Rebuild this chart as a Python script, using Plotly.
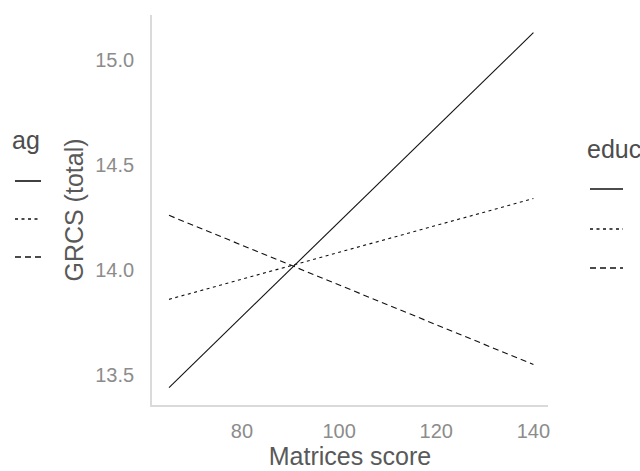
import plotly.graph_objects as go

# Predicted GRCS totals at the ends of the Matrices score range
matrices_score = [65, 140]
grcs_solid = [13.44, 15.13]
grcs_dotted = [13.86, 14.34]
grcs_dashed = [14.26, 13.55]

x_ticks = [80, 100, 120, 140]
y_ticks = [13.5, 14.0, 14.5, 15.0]

W, H = 640, 471
M_L, M_R, M_T, M_B = 152, 92, 15, 66
PW, PH = W - M_L - M_R, H - M_T - M_B

FONT = "Liberation Sans, Arial, sans-serif"
TICK_COL = "#8c8c8c"
TITLE_COL = "#595959"
LEG_COL = "#4d4d4d"
AXIS_COL = "#dadada"

DOT = "3px,3.5px"
DASH = "6px,4px"


def px_x(p):
    return (p - M_L) / PW


def px_y(p):
    return (H - M_B - p) / PH


fig = go.Figure()
for ys, dash in [(grcs_solid, "solid"), (grcs_dotted, DOT), (grcs_dashed, DASH)]:
    fig.add_trace(go.Scatter(
        x=matrices_score, y=ys, mode="lines",
        line=dict(color="#111111", width=1.1, dash=dash),
        showlegend=False, hoverinfo="skip",
    ))

shapes = []
annotations = []

# Legend blocks (age on the left, educ on the right)
legend_blocks = [
    ("age", 11, 140, 15, 41, [181, 219, 257], 28),
    ("educ", 586, 149, 590, 623, [189, 229, 268], None),
]
for title, tx, ty, kx0, kx1, kys, clip_w in legend_blocks:
    ann = dict(
        text=title, xref="paper", yref="paper", x=px_x(tx), y=px_y(ty),
        xanchor="left", yanchor="middle", showarrow=False, align="left",
        font=dict(family=FONT, size=25, color=LEG_COL), borderpad=0,
    )
    if clip_w:
        ann["width"] = clip_w
    annotations.append(ann)
    for ky, dash in zip(kys, ["solid", DOT, DASH]):
        shapes.append(dict(
            type="line", xref="paper", yref="paper",
            x0=px_x(kx0), x1=px_x(kx1), y0=px_y(ky), y1=px_y(ky),
            line=dict(color="#111111", width=1.6, dash=dash),
        ))

fig.update_layout(
    width=W, height=H,
    margin=dict(l=M_L, r=M_R, t=M_T, b=M_B),
    paper_bgcolor="white", plot_bgcolor="white",
    font=dict(family=FONT),
    shapes=shapes, annotations=annotations,
    xaxis=dict(
        range=[61.5, 143.0], tickvals=x_ticks, ticktext=[str(v) for v in x_ticks],
        showgrid=False, zeroline=False, ticks="", ticklabelstandoff=7,
        showline=True, linecolor=AXIS_COL, linewidth=1.6,
        tickfont=dict(family=FONT, size=20, color=TICK_COL),
        title=dict(text="Matrices score", standoff=2,
                   font=dict(family=FONT, size=25, color=TITLE_COL)),
        automargin=False,
    ),
    yaxis=dict(
        range=[13.357, 15.214], tickvals=y_ticks, ticktext=[f"{v:.1f}" for v in y_ticks],
        showgrid=False, zeroline=False, ticks="", ticklabelstandoff=12,
        showline=True, linecolor=AXIS_COL, linewidth=1.6,
        tickfont=dict(family=FONT, size=20, color=TICK_COL),
        title=dict(text="GRCS (total)", standoff=5,
                   font=dict(family=FONT, size=25, color=TITLE_COL)),
        automargin=False,
    ),
)

fig.write_html("out.html")
